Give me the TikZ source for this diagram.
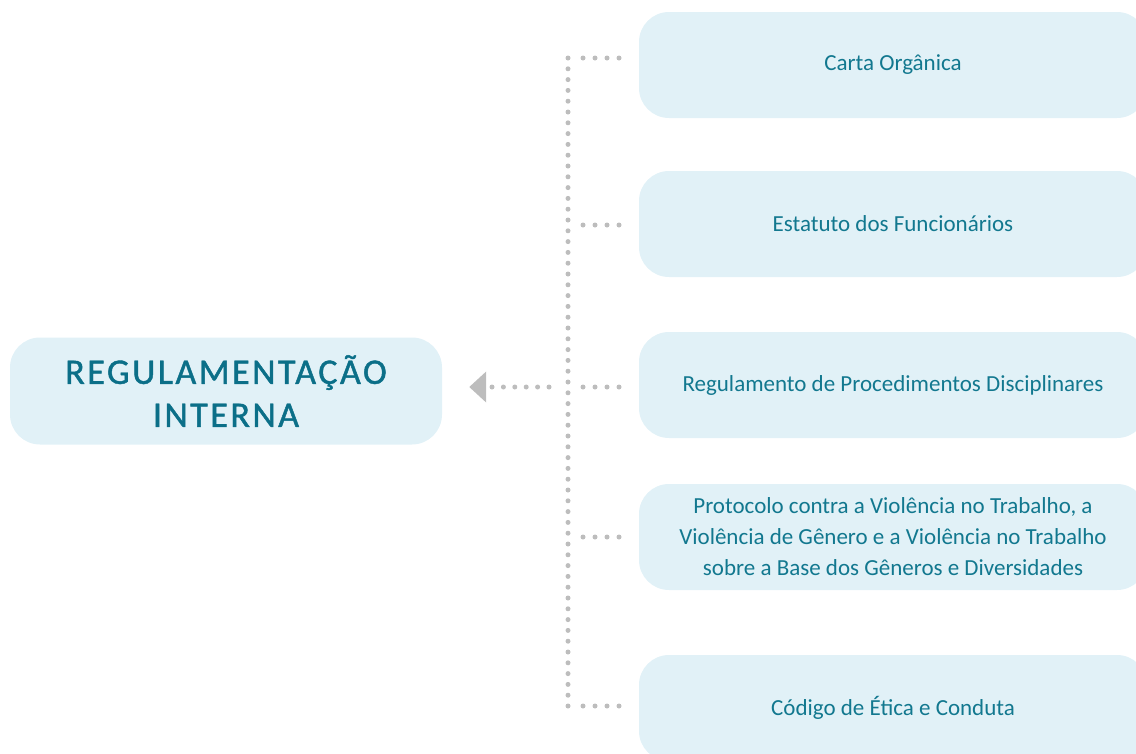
\documentclass[tikz,border=0pt]{standalone}
\usepackage{fontspec}
\setmainfont{Carlito}
\usetikzlibrary{arrows.meta,calc}
\definecolor{boxfill}{HTML}{E1F1F7}
\definecolor{txt}{HTML}{12788F}
\definecolor{ttl}{HTML}{0B6F88}
\definecolor{dotc}{HTML}{BDBDBD}
\tikzset{
  rbox/.style={fill=boxfill, rounded corners=30pt, inner sep=0pt, align=center,
    text=txt, font=\fontsize{23}{31}\selectfont, minimum width=508pt, minimum height=106pt},
  titlebox/.style={fill=boxfill, rounded corners=30pt, inner sep=0pt, align=center,
    text=ttl, font=\fontsize{36}{43}\selectfont\addfontfeatures{LetterSpace=7,FakeBold=1.2},
    minimum width=432pt, minimum height=107pt},
  vdots/.style={draw=dotc, line width=5pt, line cap=round, dash pattern=on 0pt off 10.8pt},
  hdots/.style={draw=dotc, line width=5pt, line cap=round, dash pattern=on 0pt off 12pt,
    shorten <=15pt, shorten >=19pt},
  arrdots/.style={draw=dotc, line width=5pt, line cap=round, dash pattern=on 0pt off 11.4pt,
    shorten <=19pt, shorten >=27pt,
    -{Triangle[length=17pt,width=30pt,fill=dotc,line cap=butt]}}
}
\begin{document}
\begin{tikzpicture}[x=1pt,y=-1pt]
\useasboundingbox (0,0) rectangle (1136,753);
\clip (0,0) rectangle (1136,753);
\node[titlebox] (t) at (226,391) {REGULAMENTAÇÃO\\INTERNA};
\node[rbox] (b1) at (893,65) {Carta Orgânica};
\node[rbox] (b2) at (893,224) {Estatuto dos Funcionários};
\node[rbox] (b3) at (893,385) {Regulamento de Procedimentos Disciplinares};
\node[rbox] (b4) at (893,537) {Protocolo contra a Violência no Trabalho, a\\Violência de Gênero e a Violência no Trabalho\\sobre a Base dos Gêneros e Diversidades};
\node[rbox] (b5) at (893,708) {Código de Ética e Conduta};
\coordinate (j1) at (568,58);
\coordinate (j2) at (568,225);
\coordinate (j3) at (568,387);
\coordinate (j4) at (568,537);
\coordinate (j5) at (568,706);
\draw[vdots] (j1) -- (j5);
\draw[hdots] (j1) -- (j1 -| b1.west);
\draw[hdots] (j2) -- (j2 -| b2.west);
\draw[hdots] (j3) -- (j3 -| b3.west);
\draw[hdots] (j4) -- (j4 -| b4.west);
\draw[hdots] (j5) -- (j5 -| b5.west);
\draw[arrdots] (j3) -- (j3 -| t.east);
\end{tikzpicture}
\end{document}
